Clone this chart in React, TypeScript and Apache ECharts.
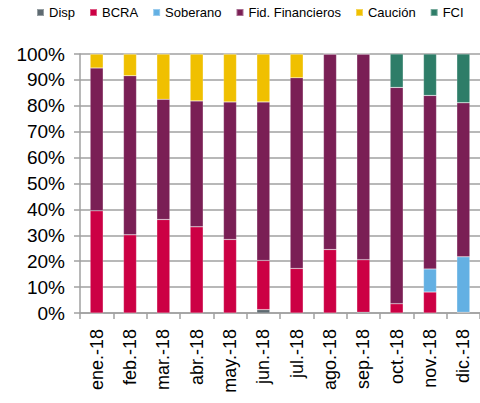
import React, { useEffect, useRef } from "react";
import * as echarts from "echarts";

const categories = ["ene.-18", "feb.-18", "mar.-18", "abr.-18", "may.-18", "jun.-18", "jul.-18", "ago.-18", "sep.-18", "oct.-18", "nov.-18", "dic.-18"];
const disp = [0, 0, 0, 0, 0, 1.3, 0, 0, 0.3, 0, 0, 0.3];
const bcra = [39.5, 30.2, 36.1, 33.3, 28.4, 19.0, 17.2, 24.5, 20.3, 3.6, 8.1, 0];
const soberano = [0, 0, 0, 0, 0, 0, 0, 0, 0, 0, 8.9, 21.4];
const fid = [55.1, 61.4, 46.4, 48.6, 53.1, 61.2, 73.6, 75.5, 79.4, 83.5, 67.0, 59.5];
const caucion = [5.4, 8.4, 17.5, 18.1, 18.5, 18.5, 9.2, 0, 0, 0, 0, 0];
const fci = [0, 0, 0, 0, 0, 0, 0, 0, 0, 12.9, 16.0, 18.8];

const seriesDefs = [
  { name: "Disp", data: disp, color: "#5e6a71" },
  { name: "BCRA", data: bcra, color: "#cc0044" },
  { name: "Soberano", data: soberano, color: "#63b0e3" },
  { name: "Fid. Financieros", data: fid, color: "#7a1f55" },
  { name: "Caución", data: caucion, color: "#f0c000" },
  { name: "FCI", data: fci, color: "#2e7d68" },
];

export default function App() {
  const ref = useRef<HTMLDivElement>(null);
  useEffect(() => {
    document.body.style.margin = "0";
    const chart = echarts.init(ref.current!, null, { renderer: "svg" });
    const font = "Arial, 'Liberation Sans', sans-serif";
    chart.setOption({
      animation: false,
      legend: {
        left: 36,
        top: 6,
        width: 444,
        padding: 0,
        itemWidth: 7,
        itemHeight: 7,
        itemGap: 14,
        icon: "rect",
        textStyle: { fontFamily: font, fontSize: 13, color: "#000" },
        data: seriesDefs.map((s) => s.name),
      },
      grid: { left: 80, right: 0, top: 54, bottom: 90 },
      xAxis: {
        type: "category",
        data: categories,
        axisLine: { lineStyle: { color: "#a0a0a0", width: 1.5 } },
        axisTick: { show: true, length: 6, lineStyle: { color: "#a0a0a0", width: 1.5 } },
        axisLabel: { rotate: 90, margin: 16, fontFamily: font, fontSize: 18, color: "#000" },
      },
      yAxis: {
        type: "value",
        min: 0,
        max: 100,
        interval: 10,
        axisLine: { show: true, lineStyle: { color: "#a0a0a0", width: 1.5 } },
        axisTick: { show: true, length: 6, lineStyle: { color: "#a0a0a0", width: 1.5 } },
        splitLine: { lineStyle: { color: "#a0a0a0", width: 1.5 } },
        axisLabel: { formatter: "{value}%", margin: 15, fontFamily: font, fontSize: 19, color: "#000" },
      },
      series: seriesDefs.map((s) => ({
        name: s.name,
        type: "bar",
        stack: "total",
        barWidth: 13,
        data: s.data,
        itemStyle: { color: s.color, borderColor: "rgba(255,255,255,0.35)", borderWidth: 0.5 },
      })),
    });
    return () => chart.dispose();
  }, []);
  return <div ref={ref} style={{ width: 480, height: 403 }} />;
}
